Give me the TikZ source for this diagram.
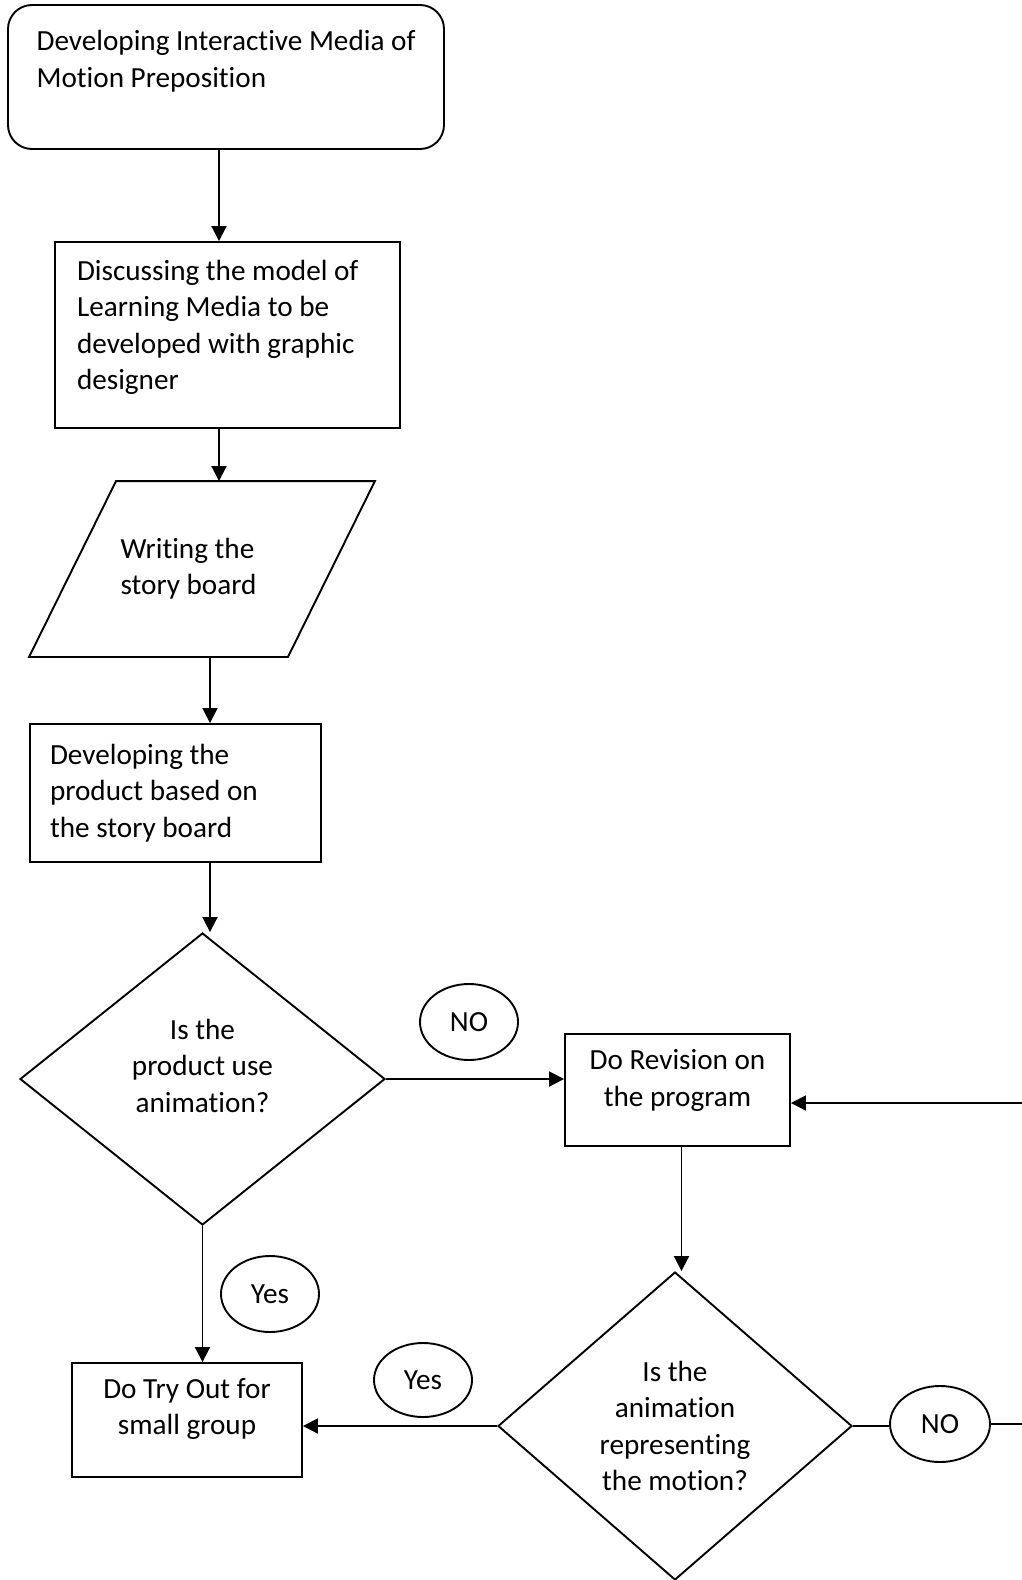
\documentclass[tikz,border=0pt]{standalone}
\usepackage{fontspec}
\setmainfont{Carlito}[Ligatures=NoCommon]
\usetikzlibrary{shapes.geometric,arrows.meta}

\tikzset{
  base/.style={draw, font=\fontsize{14.6}{18.2}\selectfont},
  startbox/.style={base, rectangle, rounded corners=12pt, align=left},
  procbox/.style={base, rectangle, align=flush left, inner xsep=11pt},
  iobox/.style={rectangle, align=left, inner sep=0pt, font=\fontsize{14.6}{18.2}\selectfont},
  decision/.style={base, diamond, align=center, inner sep=0pt},
  answer/.style={base, ellipse, inner sep=0pt}
}

\begin{document}
\begin{tikzpicture}[x=0.5pt,y=-0.5pt,>={Triangle[length=7.5pt,width=7.5pt]},line width=0.95pt]
    \useasboundingbox (0,0) rectangle (1022,1580);

    % main column
    \node (start) [startbox, minimum width=218pt, minimum height=72pt] at (226,77) {Developing Interactive Media of\\Motion Preposition\\\mbox{}};
    \node (model) [procbox, text width=150.5pt, minimum height=93pt] at (227.5,335) {Discussing the model of\\Learning Media to be\\developed with graphic\\designer\\[-8pt]\mbox{}};
    \node (story) [iobox, minimum width=172pt, minimum height=87pt] at (202,569) {Writing the\\story board\kern13.5pt};
    \draw ([xshift=43.5pt]story.north west) -- (story.north east) -- ([xshift=-43.5pt]story.south east) -- (story.south west) -- cycle;
    \node (product) [procbox, text width=125.5pt, inner xsep=10pt, minimum height=69pt] at (175.5,793) {Developing the\\product based on\\the story board};
    \node (usean) [decision, minimum width=182.5pt, minimum height=146pt, aspect=1.25] at (202.5,1079) {Is the\\product use\\animation?\\[-5pt]\mbox{}};
    \node (try) [procbox, align=center, minimum width=115pt, minimum height=57pt] at (187,1420) {Do Try Out for\\small group\\[-4.5pt]\mbox{}};

    % revision loop
    \node (rev) [procbox, align=center, minimum width=112.5pt, minimum height=56pt] at (677.5,1090) {Do Revision on\\the program\\[-6pt]\mbox{}};
    \node (repr) [decision, minimum width=177pt, minimum height=154pt, aspect=1.15] at (675,1426) {Is the\\animation\\representing\\the motion?};

    % answers
    \node (no1) [answer, minimum width=49pt, minimum height=38pt] at (469,1022) {NO};
    \node (yes1) [answer, minimum width=49pt, minimum height=38pt] at (270,1294) {Yes};
    \node (yes2) [answer, minimum width=49pt, minimum height=37pt] at (423,1380) {Yes};
    \node (no2) [answer, minimum width=50pt, minimum height=38pt] at (940,1424) {NO};

    \draw[->] ([xshift=-3.5pt]start.south) -- ([xshift=-3.5pt]start.south |- model.north);
    \draw[->] ([xshift=-4.25pt]model.south) -- ([xshift=-4.25pt]model.south |- story.north);
    \draw[->] ([xshift=4pt]story.south) -- ([xshift=4pt]story.south |- product.north);
    \draw[->] ([xshift=3.75pt]product.south -| usean.north) -- ([xshift=3.75pt]usean.north);
    \draw[->] (usean.south) -- (usean.south |- try.north);
    \draw[->] (usean.east) -- (usean.east -| rev.west);
    \draw[->] ([xshift=2pt]rev.south) -- ([xshift=2pt]rev.south |- repr.north);
    \draw[->] (repr.west) -- (repr.west -| try.east);
    \draw (repr.east) -- (repr.east -| no2.west);
    \draw[->] (no2.east) -- ++(40,0) |- ([yshift=-6.5pt]rev.east);
\end{tikzpicture}
\end{document}
